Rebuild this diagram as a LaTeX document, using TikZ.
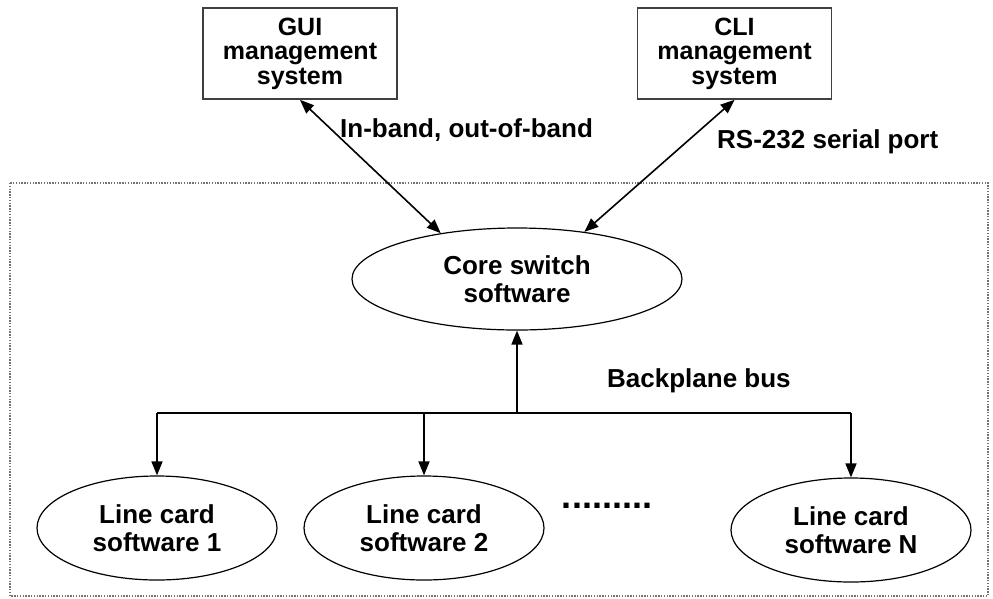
\documentclass[tikz,border=0pt]{standalone}
\usepackage{fontspec}
\setmainfont{Liberation Sans}
\usetikzlibrary{shapes.geometric,arrows.meta}
\newcommand{\mgmtfont}{\bfseries\fontsize{25}{24.5}\selectfont}
\newcommand{\swfont}{\bfseries\fontsize{26}{28.5}\selectfont}
\tikzset{
  mgmtbox/.style = {rectangle, draw=black!75, line width=1.6pt, align=center, inner sep=0pt, minimum width=194pt, minimum height=91pt, font=\mgmtfont},
  swnode/.style = {ellipse, draw=black, line width=1.2pt, align=center, inner sep=0pt, font=\swfont},
  corenode/.style = {swnode, minimum width=330pt, minimum height=102pt},
  lcnode/.style = {swnode, minimum width=240pt, minimum height=104pt},
  link/.style = {line width=1.6pt, black, >={Triangle[length=14pt,width=11pt]}},
  lbl/.style = {font=\swfont, anchor=base west, inner sep=0pt},
}

\begin{document}
\begin{tikzpicture}[x=1pt, y=-1pt]
\useasboundingbox (0,0) rectangle (993,598);
% chassis outline
\draw[black!55, line width=1.4pt, dash pattern=on 1.4pt off 1.4pt] (10,183) rectangle (988,596);

\node [mgmtbox] (gui) at (300,53.5) {GUI\\management\\system};
\node [mgmtbox] (cli) at (734.5,53.5) {CLI\\management\\system};
\node [corenode] (core) at (517,279) {Core switch\\software};
\node [lcnode] (lc1) at (157,528) {Line card\\software 1};
\node [lcnode] (lc2) at (424,528) {Line card\\software 2};
\node [lcnode] (lcN) at (851,530) {Line card\\software N};
\node [font=\bfseries\fontsize{36}{36}\selectfont, inner sep=0pt] (dots) at (607,506) {.........};
\coordinate (bus) at (517,413);

\draw[link, <->] (gui.south) -- (core.149);
\draw[link, <->] (cli.south) -- (core.35);
\draw[link, ->] (bus) -- (core);
\draw[link] (lc1.north |- bus) -- (lcN.north |- bus);
\foreach \n in {lc1,lc2,lcN}
  \draw[link, ->] (\n.north |- bus) -- (\n);

\node [lbl] (inband) at (340,137) {In-band, out-of-band};
\node [lbl] (rs) at (717,148) {RS-232 serial port};
\node [lbl] (bp) at (607,387) {Backplane bus};
\end{tikzpicture}
\end{document}
